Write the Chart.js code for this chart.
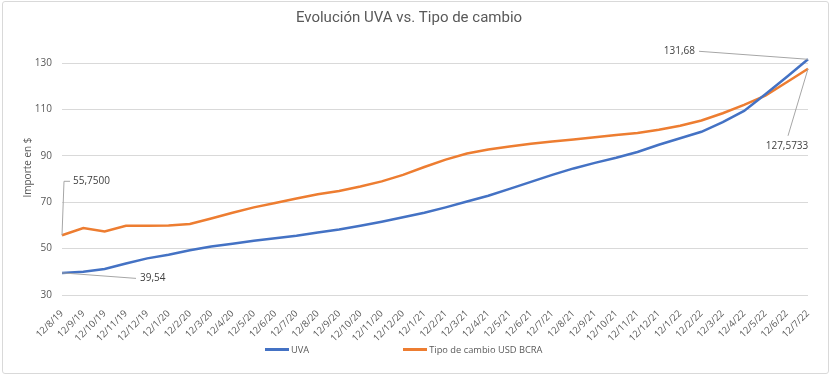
<!DOCTYPE html>
<html>
<head>
<meta charset="utf-8">
<script src="https://cdn.jsdelivr.net/npm/chart.js@4"></script>
<style>
  body { margin: 0; background: #fff; }
  #wrap { position: relative; width: 831px; height: 376px; }
  #frame { position: absolute; left: 2px; top: 1px; width: 827px; height: 373px; border: 1px solid #d9d9d9; border-radius: 3px; box-sizing: border-box; pointer-events: none; }
  #legend { position: absolute; left: 265px; top: 343px; display: flex; gap: 94px; font: 9.3px "Open Sans"; color: #595959; }
  #legend span { display: flex; align-items: center; }
  #legend i { display: inline-block; width: 24px; height: 3px; margin-right: 2px; }
</style>
</head>
<body>
<div id="wrap">
  <canvas id="chart" width="831" height="376"></canvas>
  <div id="legend"></div>
  <div id="frame"></div>
</div>
<script>
// Data (12th of each month)
const months = ['12/8/19', '12/9/19', '12/10/19', '12/11/19', '12/12/19',
  '12/1/20', '12/2/20', '12/3/20', '12/4/20', '12/5/20', '12/6/20', '12/7/20', '12/8/20', '12/9/20', '12/10/20', '12/11/20', '12/12/20',
  '12/1/21', '12/2/21', '12/3/21', '12/4/21', '12/5/21', '12/6/21', '12/7/21', '12/8/21', '12/9/21', '12/10/21', '12/11/21', '12/12/21',
  '12/1/22', '12/2/22', '12/3/22', '12/4/22', '12/5/22', '12/6/22', '12/7/22'];

const uva = [39.54, 40.0, 41.2, 43.6, 45.8, 47.4, 49.3, 50.9, 52.1, 53.4, 54.5, 55.6, 57.0,
  58.3, 59.9, 61.6, 63.5, 65.5, 67.8, 70.3, 72.8, 75.8, 78.8, 81.8, 84.6,
  87.0, 89.2, 91.7, 94.8, 97.6, 100.4, 104.6, 109.4, 116.6, 124.0, 131.68];

const usdBcra = [55.75, 58.9, 57.4, 59.9, 59.9, 60.0, 60.6, 63.0, 65.5, 67.8, 69.7, 71.6, 73.5,
  74.9, 76.8, 79.0, 81.8, 85.2, 88.4, 91.0, 92.8, 94.1, 95.2, 96.2, 97.1,
  98.0, 99.0, 99.9, 101.3, 103.0, 105.3, 108.4, 112.0, 116.0, 121.8, 127.5733];

const yTicks = [30, 50, 70, 90, 110, 130];

const seriesNames = ['UVA', 'Tipo de cambio USD BCRA'];
const seriesColors = ['#4472C4', '#ED7D31'];

// data labels with leader lines (offsets in px from the point)
const callouts = [
  { ds: 1, i: 0, decimals: 4, tx: 11, ty: -54, align: 'left', leader: [[2, -54], [8, -54]] },
  { ds: 0, i: 0, decimals: 2, tx: 78, ty: 5.5, align: 'left', leader: [[74, 5.5]] },
  { ds: 0, i: 35, decimals: 2, tx: -113, ty: -8, align: 'right', leader: [[-109, -8]] },
  { ds: 1, i: 35, decimals: 4, tx: -21, ty: 77, align: 'center', leader: [[-20, 67]] }
];

const calloutPlugin = {
  id: 'callouts',
  afterDatasetsDraw(chart) {
    const ctx = chart.ctx;
    callouts.forEach(c => {
      const pt = chart.getDatasetMeta(c.ds).data[c.i];
      const value = chart.data.datasets[c.ds].data[c.i];
      ctx.save();
      ctx.strokeStyle = '#a6a6a6';
      ctx.lineWidth = 1;
      ctx.beginPath();
      ctx.moveTo(pt.x, pt.y);
      c.leader.forEach(([dx, dy]) => ctx.lineTo(pt.x + dx, pt.y + dy));
      ctx.stroke();
      ctx.fillStyle = '#404040';
      ctx.font = '10px "Open Sans"';
      ctx.textAlign = c.align;
      ctx.textBaseline = 'middle';
      ctx.fillText(value.toFixed(c.decimals).replace('.', ','), pt.x + c.tx, pt.y + c.ty);
      ctx.restore();
    });
  }
};

const grey = '#595959';

const chart = new Chart(document.getElementById('chart'), {
  type: 'line',
  data: {
    labels: months,
    datasets: [uva, usdBcra].map((d, k) => ({
      label: seriesNames[k],
      data: d,
      borderColor: seriesColors[k],
      backgroundColor: seriesColors[k],
      borderWidth: 2.5,
      pointRadius: 0,
      tension: 0
    }))
  },
  options: {
    responsive: false,
    animation: false,
    layout: { padding: { left: 10, right: 23, top: 0, bottom: 0 } },
    plugins: {
      legend: { display: false },
      tooltip: { enabled: false },
      title: {
        display: true,
        text: 'Evolución UVA vs. Tipo de cambio',
        color: grey,
        font: { family: 'Roboto', size: 15, weight: 'normal' },
        padding: { top: 9, bottom: 13 }
      }
    },
    scales: {
      x: {
        grid: { display: false },
        border: { display: false },
        ticks: {
          autoSkip: false, minRotation: 45, maxRotation: 45, padding: 5,
          color: grey, font: { family: 'Open Sans', size: 9.5 }
        },
        afterFit: s => { s.height = 81; }
      },
      y: {
        min: 30,
        max: 140,
        afterBuildTicks: s => { s.ticks = yTicks.map(v => ({ value: v })); },
        grid: { color: '#d9d9d9', drawTicks: false },
        border: { display: false },
        ticks: { padding: 10, color: grey, font: { family: 'Open Sans', size: 10 } },
        title: {
          display: true, text: 'Importe en $', color: grey,
          font: { family: 'Open Sans', size: 10 }, padding: { top: 12 }
        },
        afterFit: s => { s.width = 52; }
      }
    }
  },
  plugins: [calloutPlugin]
});

// legend below the chart
const legend = document.getElementById('legend');
chart.data.datasets.forEach(ds => {
  const item = document.createElement('span');
  item.innerHTML = `<i style="background:${ds.borderColor}"></i>${ds.label}`;
  legend.appendChild(item);
});
</script>
</body>
</html>
